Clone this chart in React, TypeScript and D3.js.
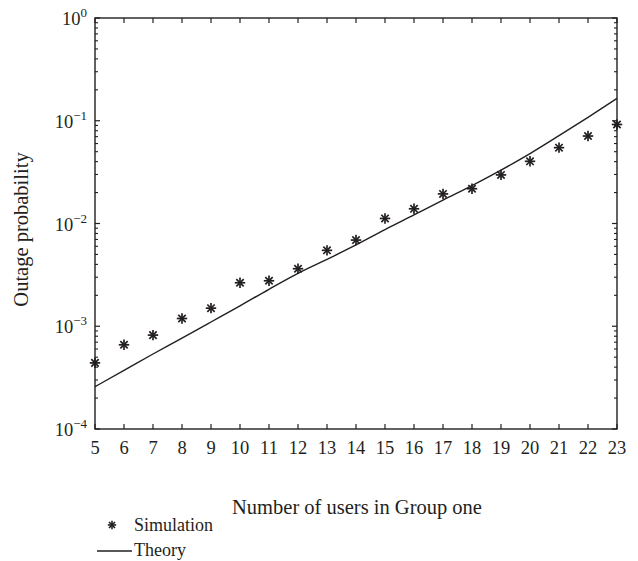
import React from "react";
import * as d3 from "d3";

const users = [5, 6, 7, 8, 9, 10, 11, 12, 13, 14, 15, 16, 17, 18, 19, 20, 21, 22, 23];
const simulation = [4.4e-4, 6.6e-4, 8.2e-4, 1.19e-3, 1.5e-3, 2.65e-3, 2.77e-3, 3.63e-3, 5.48e-3, 6.9e-3, 1.12e-2, 1.39e-2, 1.94e-2, 2.18e-2, 2.97e-2, 4.03e-2, 5.47e-2, 7.1e-2, 9.2e-2];
const theory = [2.58e-4, 3.72e-4, 5.37e-4, 7.67e-4, 1.1e-3, 1.58e-3, 2.29e-3, 3.27e-3, 4.47e-3, 6.18e-3, 8.71e-3, 1.21e-2, 1.69e-2, 2.34e-2, 3.31e-2, 4.79e-2, 7.16e-2, 0.108, 0.165];
const yTickExps = [0, -1, -2, -3, -4];
const xLabel = "Number of users in Group one";
const yLabel = "Outage probability";
const legendLabels = ["Simulation", "Theory"];

const FONT = "'Liberation Serif', 'DejaVu Serif', serif";
const INK = "#231f20";

function Star({ cx, cy, r, w = 1.7 }: { cx: number; cy: number; r: number; w?: number }) {
  const d = r * Math.SQRT1_2;
  return (
    <g stroke={INK} strokeWidth={w} strokeLinecap="butt">
      <line x1={cx - r} y1={cy} x2={cx + r} y2={cy} />
      <line x1={cx} y1={cy - r} x2={cx} y2={cy + r} />
      <line x1={cx - d} y1={cy - d} x2={cx + d} y2={cy + d} />
      <line x1={cx - d} y1={cy + d} x2={cx + d} y2={cy - d} />
    </g>
  );
}

export default function App() {
  const W = 638, H = 561;
  const L = 95, R = 617, T = 18, B = 429;
  const x = d3.scaleLinear().domain([5, 23]).range([L, R]);
  const y = d3.scaleLog().domain([1e-4, 1]).range([B, T]);
  const line = d3
    .line<number>()
    .x((_, i) => x(users[i]))
    .y((d) => y(d))
    .curve(d3.curveMonotoneX);

  const minors: number[] = [];
  for (let e = -4; e < 0; e++) {
    for (let k = 2; k <= 9; k++) minors.push(k * Math.pow(10, e));
  }

  return (
    <div style={{ position: "absolute", left: 0, top: 0 }}>
      <svg width={W} height={H} style={{ display: "block", background: "#fff" }} fontFamily={FONT}>
        <path d={line(theory) || ""} fill="none" stroke={INK} strokeWidth={1.4} />
        {simulation.map((v, i) => (
          <Star key={i} cx={x(users[i])} cy={y(v)} r={5.2} />
        ))}
        <rect x={L} y={T} width={R - L} height={B - T} fill="none" stroke={INK} strokeWidth={1.4} />
        {users.map((u) => (
          <g key={u} stroke={INK} strokeWidth={1.2}>
            <line x1={x(u)} x2={x(u)} y1={B} y2={B - 5} />
            <line x1={x(u)} x2={x(u)} y1={T} y2={T + 5} />
          </g>
        ))}
        {users.map((u) => (
          <text key={u} x={x(u)} y={454} textAnchor="middle" fontSize={18.5} fill={INK}>
            {u}
          </text>
        ))}
        {yTickExps.map((e) => {
          const yy = y(Math.pow(10, e));
          return (
            <g key={e} stroke={INK} strokeWidth={1.2}>
              <line x1={L} x2={L + 5} y1={yy} y2={yy} />
              <line x1={R} x2={R - 5} y1={yy} y2={yy} />
            </g>
          );
        })}
        {minors.map((v, i) => (
          <g key={i} stroke={INK} strokeWidth={1.1}>
            <line x1={L} x2={L + 3} y1={y(v)} y2={y(v)} />
            <line x1={R} x2={R - 3} y1={y(v)} y2={y(v)} />
          </g>
        ))}
        {yTickExps.map((e) => (
          <text key={e} x={87} y={y(Math.pow(10, e)) + 7} textAnchor="end" fontSize={18.5} fill={INK}>
            10
            <tspan dy={-8} fontSize={13}>
              {e === 0 ? "0" : "\u2212" + Math.abs(e)}
            </tspan>
          </text>
        ))}
        <text x={357} y={514} textAnchor="middle" fontSize={20.5} fill={INK}>
          {xLabel}
        </text>
        <text
          transform={`translate(28, ${(T + B) / 2 + 6}) rotate(-90)`}
          textAnchor="middle"
          fontSize={20.5}
          fill={INK}
        >
          {yLabel}
        </text>
        <Star cx={112} cy={525} r={4.2} w={1.6} />
        <text x={134} y={531} fontSize={18} fill={INK}>
          {legendLabels[0]}
        </text>
        <line x1={97} x2={132} y1={551} y2={551} stroke={INK} strokeWidth={1.3} />
        <text x={134} y={556} fontSize={18} fill={INK}>
          {legendLabels[1]}
        </text>
      </svg>
    </div>
  );
}
